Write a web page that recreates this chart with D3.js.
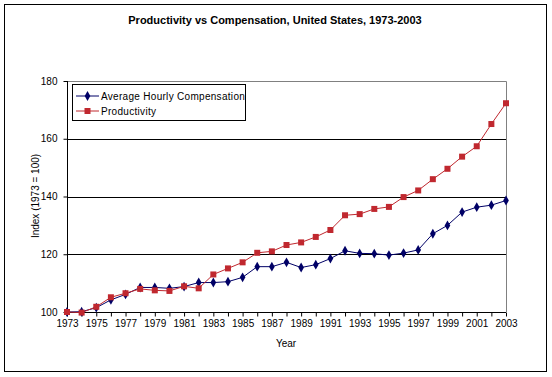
<!DOCTYPE html>
<html><head><meta charset="utf-8">
<script src="https://cdn.jsdelivr.net/npm/d3@7"></script>
<style>body{margin:0;background:#fff}svg{display:block}</style>
</head><body>
<svg id="c" width="552" height="377"></svg>
<script>
const years = d3.range(1973, 2004);
const compensation = [100.0,100.1,101.5,104.2,106.1,108.5,108.5,108.2,108.8,110.2,110.2,110.5,112.0,115.7,115.7,117.2,115.4,116.4,118.5,121.2,120.3,120.2,119.7,120.4,121.5,127.1,130.0,134.6,136.3,137.0,138.6];
const productivity = [100.0,99.8,101.8,105.1,106.5,108.0,107.5,107.3,108.9,108.2,113.0,115.1,117.2,120.5,121.0,123.2,124.1,126.0,128.4,133.5,133.9,135.7,136.4,139.8,142.1,146.0,149.6,153.8,157.4,165.1,172.3];
const yTicks = [100,120,140,160,180];
const xTickLabels = d3.range(1973, 2004, 2);
const seriesNames = ["Average Hourly Compensation","Productivity"];
const title = "Productivity vs Compensation, United States, 1973-2003";

const svg = d3.select("#c");
const font = "'Liberation Sans', Arial, sans-serif";
const L=67, R=506, T=81, B=312;
const x = d3.scaleLinear().domain([1973,2003]).range([L,R]);
const y = d3.scaleLinear().domain([100,180]).range([B,T]);

// outer border
svg.append("rect").attr("x",4.5).attr("y",4.5).attr("width",542).attr("height",367)
  .attr("fill","#fff").attr("stroke","#000").attr("stroke-width",1);

svg.append("text").attr("x",275).attr("y",24).attr("text-anchor","middle")
  .attr("font-family",font).attr("font-weight","bold").attr("font-size",11).text(title);

// plot border (gray top/right)
svg.append("path").attr("d",`M${L},${T+0.5}H${R+0.5}V${B}`).attr("fill","none").attr("stroke","#808080");

// gridlines
svg.append("g").selectAll("line").data(yTicks.filter(v=>v>100 && v<180)).join("line")
  .attr("x1",L).attr("x2",R).attr("y1",d=>Math.round(y(d))+0.5).attr("y2",d=>Math.round(y(d))+0.5)
  .attr("stroke","#000");

// y axis
const ya = svg.append("g").attr("transform",`translate(${L+0.5},0)`)
  .call(d3.axisLeft(y).tickValues(yTicks).tickSize(4).tickPadding(6).tickFormat(d3.format("d")));
ya.select(".domain").attr("stroke","#000").attr("d",`M0,${T}V${B}`);
ya.selectAll("text").attr("font-family",font).attr("font-size",10).attr("fill","#000");

// x axis
const xa = svg.append("g").attr("transform",`translate(0,${B+0.5})`)
  .call(d3.axisBottom(x).tickValues(years).tickSize(4).tickPadding(3)
    .tickFormat(d=> xTickLabels.includes(d) ? String(d) : ""));
xa.select(".domain").attr("stroke","#000").attr("d",`M${L},0H${R}`);
xa.selectAll("text").attr("font-family",font).attr("font-size",10).attr("fill","#000");

svg.append("text").attr("transform","translate(39,196) rotate(-90)").attr("text-anchor","middle")
  .attr("font-family",font).attr("font-size",10).text("Index (1973 = 100)");
svg.append("text").attr("x",286).attr("y",347).attr("text-anchor","middle")
  .attr("font-family",font).attr("font-size",10).text("Year");

const blue="#000066", red="#c0282f";
const line = d3.line().x((d,i)=>x(years[i])).y(d=>y(d));
svg.append("path").datum(compensation).attr("d",line).attr("fill","none").attr("stroke",blue).attr("stroke-width",1);
svg.append("path").datum(productivity).attr("d",line).attr("fill","none").attr("stroke",red).attr("stroke-width",1);

const diamond = d3.symbol().type(d3.symbolDiamond).size(28);
svg.append("g").selectAll("path").data(compensation).join("path")
  .attr("transform",(d,i)=>`translate(${x(years[i])},${y(d)})`).attr("d",diamond).attr("fill",blue);
svg.append("g").selectAll("rect").data(productivity).join("rect")
  .attr("x",(d,i)=>x(years[i])-3).attr("y",d=>y(d)-3).attr("width",6).attr("height",6).attr("fill",red);

// legend
const lg = svg.append("g");
lg.append("rect").attr("x",72.5).attr("y",84.5).attr("width",173).attr("height",36).attr("fill","#fff").attr("stroke","#000");
const items=[{c:blue,t:"diamond"},{c:red,t:"square"}];
items.forEach((it,i)=>{
  const yy=96+i*15;
  lg.append("line").attr("x1",76).attr("x2",99).attr("y1",yy).attr("y2",yy).attr("stroke",it.c);
  if(it.t==="diamond") lg.append("path").attr("transform",`translate(87.5,${yy})`).attr("d",diamond).attr("fill",it.c);
  else lg.append("rect").attr("x",84.5).attr("y",yy-3).attr("width",6).attr("height",6).attr("fill",it.c);
  lg.append("text").attr("x",101).attr("y",yy+4).attr("font-family",font).attr("font-size",10)
    .attr("letter-spacing",0.3).text(seriesNames[i]);
});
</script>
</body></html>
